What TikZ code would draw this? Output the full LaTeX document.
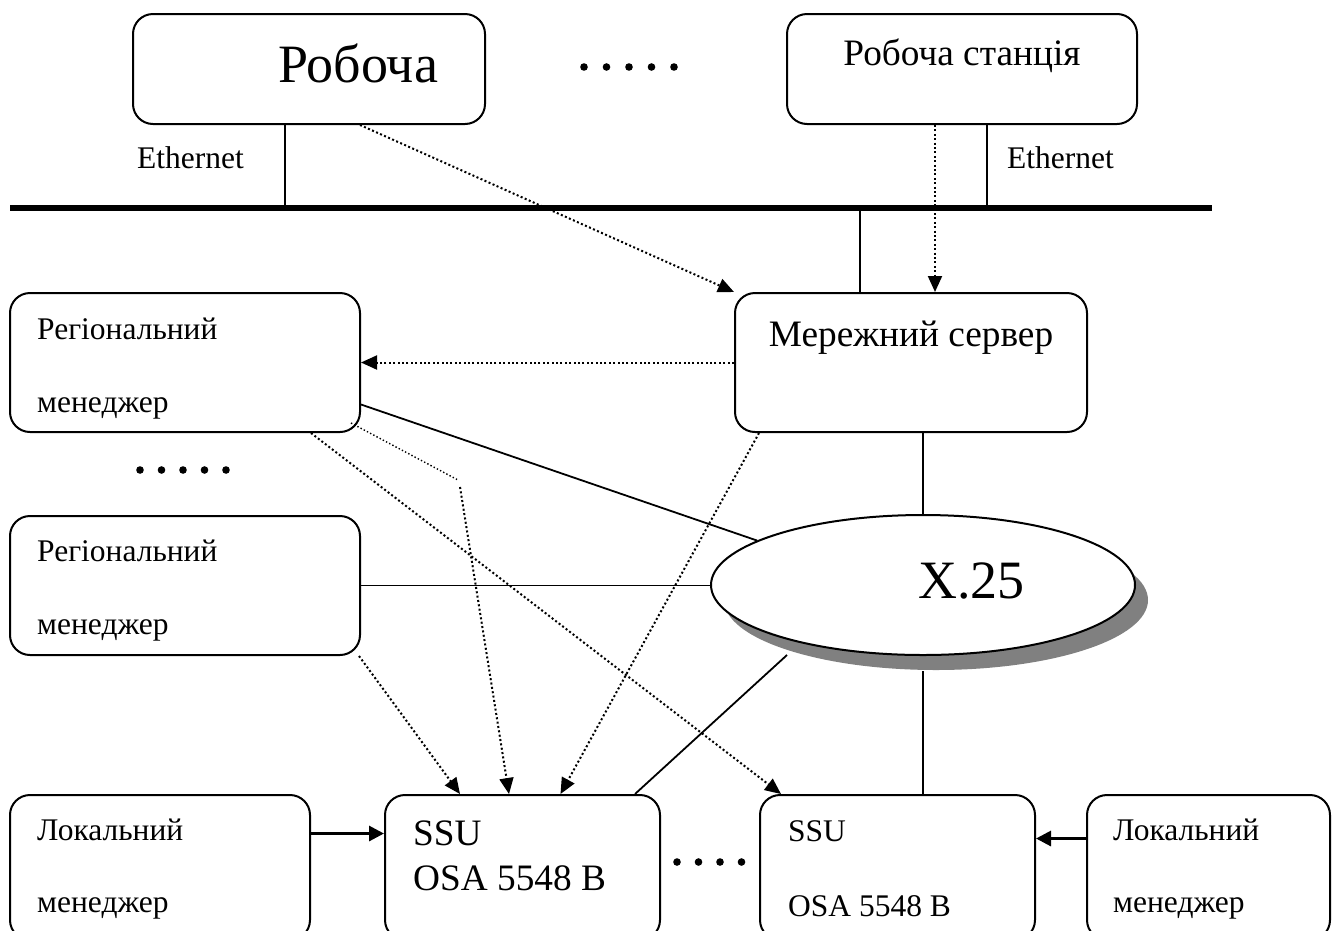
\documentclass[tikz,border=0pt]{standalone}
\usepackage{fontspec}
\setmainfont{Liberation Serif}
\usetikzlibrary{arrows.meta,shapes.geometric,shadows}

\begin{document}
\begin{tikzpicture}[x=1pt,y=-1pt,
  box/.style={draw,line width=2pt,rounded corners=20pt,inner sep=0pt,fill=white},
  wire/.style={line width=1.8pt},
  dotln/.style={line width=2pt,dash pattern=on 2pt off 2.4pt},
  thindot/.style={line width=1.4pt,dash pattern=on 1.4pt off 2.2pt},
  tip/.style={-{Triangle[length=16pt,width=14pt]}},
  lbl/.style={inner sep=0pt,anchor=base west},
  ctr/.style={inner sep=0pt,anchor=base},
  f31/.style={font=\fontsize{31.5}{36}\selectfont},
  f37/.style={font=\fontsize{37.3}{42}\selectfont},
  f54/.style={font=\fontsize{54}{60}\selectfont}]

\useasboundingbox (0,0) rectangle (1332,930);
\clip (0,0) rectangle (1332,930);

% Ethernet bus
\coordinate (busL) at (10,208);
\coordinate (busR) at (1212,208);
\coordinate (tapA) at (285,208);
\coordinate (tapB) at (987,208);
\coordinate (tapC) at (860,208);
\draw[line width=6pt] (busL) -- (busR);

% boxes
\node[box,minimum width=352pt,minimum height=110pt] (ws1) at (309,69) {};
\node[box,minimum width=350pt,minimum height=110pt] (ws2) at (962,69) {};
\node[box,minimum width=352pt,minimum height=139pt] (srv) at (911,362.5) {};
\node[box,minimum width=350pt,minimum height=139pt] (rm1) at (185,362.5) {};
\node[box,minimum width=350pt,minimum height=139pt] (rm2) at (185,585.5) {};
\node[box,minimum width=300pt,minimum height=145pt] (lm1) at (160,867.5) {};
\node[box,minimum width=275pt,minimum height=145pt] (ssu1) at (522.5,867.5) {};
\node[box,minimum width=275pt,minimum height=145pt] (ssu2) at (897.5,867.5) {};
\node[box,minimum width=243pt,minimum height=145pt] (lm2) at (1208.5,867.5) {};

% X.25 network cloud
\node[ellipse,draw,line width=2pt,fill=white,inner sep=0pt,
      minimum width=424pt,minimum height=140pt,
      drop shadow={shadow xshift=13pt,shadow yshift=-15pt,fill=black!50,opacity=1}]
      (x25) at (923,585) {};
\coordinate (x25sw) at (787,655);

% links to the bus
\draw[wire] (ws1.south -| tapA) -- (tapA);
\draw[wire] (ws2.south -| tapB) -- (tapB);
\draw[wire] (tapC) -- (srv.north -| tapC);

% solid links
\draw[wire] (x25.north) -- (srv.south -| x25.north);
\draw[wire] ([yshift=-15pt]x25.south) -- (ssu2.north -| x25.south);
\draw[wire] ([yshift=-42pt]rm1.east) -- (x25.165);
\draw[wire] (rm2.east) -- (rm2.east -| x25.west);
\draw[wire] ([xshift=112.5pt]ssu1.north) -- (x25sw);

% control flows
\draw[dotln,tip] ([xshift=51pt]ws1.south) -- (srv.north west);
\draw[dotln,tip] ([xshift=-27pt]ws2.south) -- ([xshift=24pt]srv.north);
\draw[dotln,tip] (srv.west) -- (rm1.east);
\coordinate (brkA) at (458,480);
\coordinate (brkB) at (460,487);
\draw[thindot] ([xshift=-10pt,yshift=10pt]rm1.south east) -- (brkA);
\draw[dotln,tip] (brkB) -- ([xshift=-13.5pt]ssu1.north);
\draw[dotln,tip] ([xshift=-50pt]rm1.south east) -- ([xshift=22pt]ssu2.north west);
\draw[dotln,tip] ([xshift=-2pt]rm2.south east) -- ([xshift=-62.5pt]ssu1.north);
\draw[dotln,tip] ([xshift=25pt]srv.south west) -- ([xshift=38pt]ssu1.north);

% local managers
\draw[line width=3pt,-{Triangle[length=15pt,width=15pt]}]
  ([yshift=34pt]lm1.east) -- ([yshift=34pt]ssu1.west);
\draw[line width=3pt,-{Triangle[length=15pt,width=15pt]}]
  ([yshift=29pt]lm2.west) -- ([yshift=29pt]ssu2.east);

% ellipsis marks
\foreach \i in {0,...,4} \fill (584+22.5*\i,67) circle (3.8pt);
\foreach \i in {0,...,4} \fill (140+21.5*\i,470) circle (3.8pt);
\foreach \i in {0,...,3} \fill (677+21.5*\i,862) circle (3.8pt);

% labels
\node[ctr,f54] (ws1t) at (358,82) {Робоча};
\node[ctr,f37] (ws2t) at (962,65) {Робоча станція};
\node[lbl,f31] (ethA) at (137,168) {Ethernet};
\node[lbl,f31] (ethB) at (1007,168) {Ethernet};
\node[ctr,f37] (srvt) at (911,346) {Мережний сервер};
\node[lbl,f31] (rm1a) at (37,339) {Регіональний};
\node[lbl,f31] (rm1b) at (37,412) {менеджер};
\node[lbl,f31] (rm2a) at (37,561) {Регіональний};
\node[lbl,f31] (rm2b) at (37,634) {менеджер};
\node[lbl,f54] (x25t) at (918,598) {X.25};
\node[lbl,f31] (lm1a) at (37,840) {Локальний};
\node[lbl,f31] (lm1b) at (37,912) {менеджер};
\node[lbl,f37] (ssu1a) at (413,845) {SSU};
\node[lbl,f37] (ssu1b) at (413,890) {OSA 5548 B};
\node[lbl,f31] (ssu2a) at (788,841) {SSU};
\node[lbl,f31] (ssu2b) at (788,916) {OSA 5548 B};
\node[lbl,f31] (lm2a) at (1113,840) {Локальний};
\node[lbl,f31] (lm2b) at (1113,912) {менеджер};
\end{tikzpicture}
\end{document}
